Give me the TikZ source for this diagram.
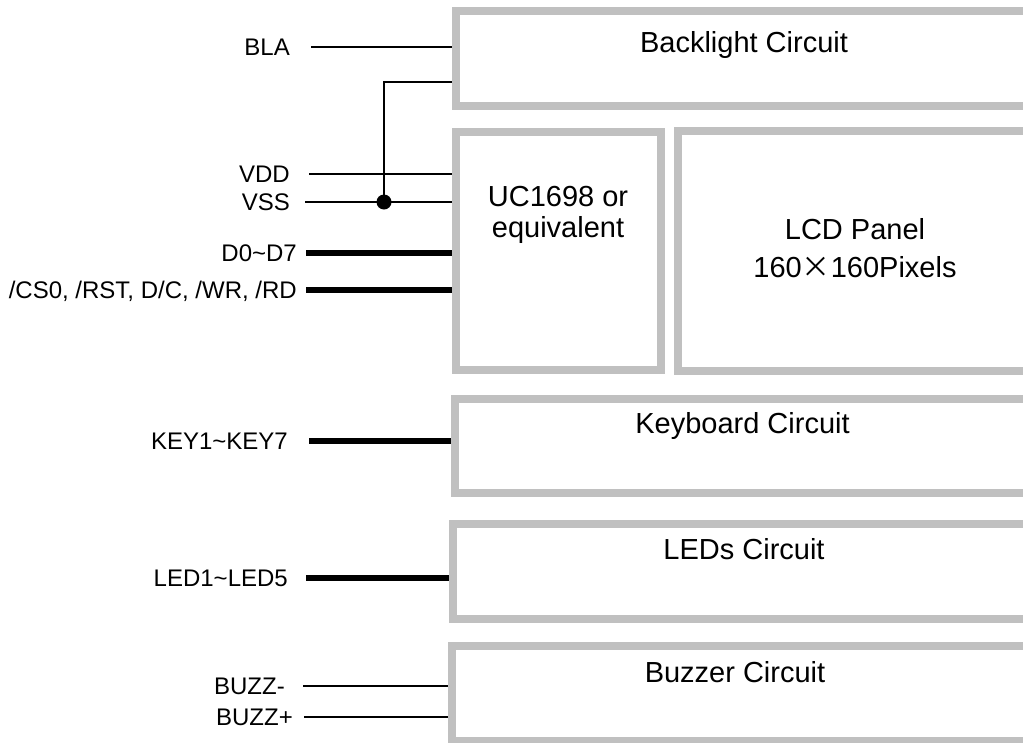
\documentclass[tikz,border=0pt]{standalone}
\usepackage{fontspec}
\setmainfont{Liberation Sans}
\newfontfamily\cjkfont{Noto Sans CJK SC}
\definecolor{boxgray}{HTML}{C0C0C0}
\begin{document}
\begin{tikzpicture}[x=1pt,y=-1pt,
  box/.style={draw=boxgray, line width=8pt, rectangle, inner sep=0pt, outer sep=4pt, anchor=north west},
  wire/.style={line width=2pt, black},
  bus/.style={line width=6pt, black},
  lab/.style={font=\fontsize{24}{28}\selectfont, inner sep=0pt, anchor=east, text height=17.2pt, text depth=0pt},
  ttl/.style={font=\fontsize{29}{34}\selectfont, inner sep=0pt, anchor=base}]
\path[use as bounding box, clip] (0,0) rectangle (1023,742);
% boxes
\node[box, minimum width=600pt, minimum height=95pt] (bl) at (452,7) {};
\node[box, minimum width=205pt, minimum height=238pt] (uc) at (451.5,128) {};
\node[box, minimum width=400pt, minimum height=240pt] (lcd) at (674,127) {};
\node[box, minimum width=600pt, minimum height=94pt] (kb) at (451,395) {};
\node[box, minimum width=600pt, minimum height=95pt] (led) at (449,520) {};
\node[box, minimum width=600pt, minimum height=95pt] (bz) at (447.5,642) {};
% titles
\node[ttl] (tbl) at (744,52) {Backlight Circuit};
\node[ttl] (tuc1) at (558,206) {UC1698 or};
\node[ttl] (tuc2) at (558,237) {equivalent};
\node[ttl] (tlcd1) at (855,239) {LCD Panel};
\node[ttl] (tlcd2) at (855,277) {160{\cjkfont ×}160Pixels};
\node[ttl] (tkb) at (742.5,433) {Keyboard Circuit};
\node[ttl] (tled) at (744,559) {LEDs Circuit};
\node[ttl] (tbz) at (735,682) {Buzzer Circuit};
% labels
\node[lab] (lbla) at (290,47) {BLA};
\node[lab] (lvdd) at (290,174) {VDD};
\node[lab] (lvss) at (290,202) {VSS};
\node[lab] (ld) at (297,253) {D0\textasciitilde D7};
\node[lab] (lcs) at (297,290) {/CS0, /RST, D/C, /WR, /RD};
\node[lab] (lkey) at (288,441) {KEY1\textasciitilde KEY7};
\node[lab] (lled) at (288,578) {LED1\textasciitilde LED5};
\node[lab] (lbm) at (285,686) {BUZZ-};
\node[lab] (lbp) at (293,717) {BUZZ+};
% wire start points
\coordinate (sbla) at (311,47);
\coordinate (svdd) at (309,174);
\coordinate (svss) at (305,202);
\coordinate (sd) at (306,253);
\coordinate (scs) at (306,290);
\coordinate (skey) at (309,441);
\coordinate (sled) at (306,578);
\coordinate (sbm) at (303,686);
\coordinate (sbp) at (304,717);
\coordinate (k) at (384,82);
% junction
\node[circle, fill=black, inner sep=0pt, minimum size=15pt] (j) at (384,202) {};
% wires
\draw[wire] (sbla) -- (sbla -| bl.west);
\draw[wire] (j.center) -- (k) -- (k -| bl.west);
\draw[wire] (svdd) -- (svdd -| uc.west);
\draw[wire] (svss) -- (svss -| uc.west);
\draw[bus] (sd) -- (sd -| uc.west);
\draw[bus] (scs) -- (scs -| uc.west);
\draw[bus] (skey) -- (skey -| kb.west);
\draw[bus] (sled) -- (sled -| led.west);
\draw[wire] (sbm) -- (sbm -| bz.west);
\draw[wire] (sbp) -- (sbp -| bz.west);
\end{tikzpicture}
\end{document}
